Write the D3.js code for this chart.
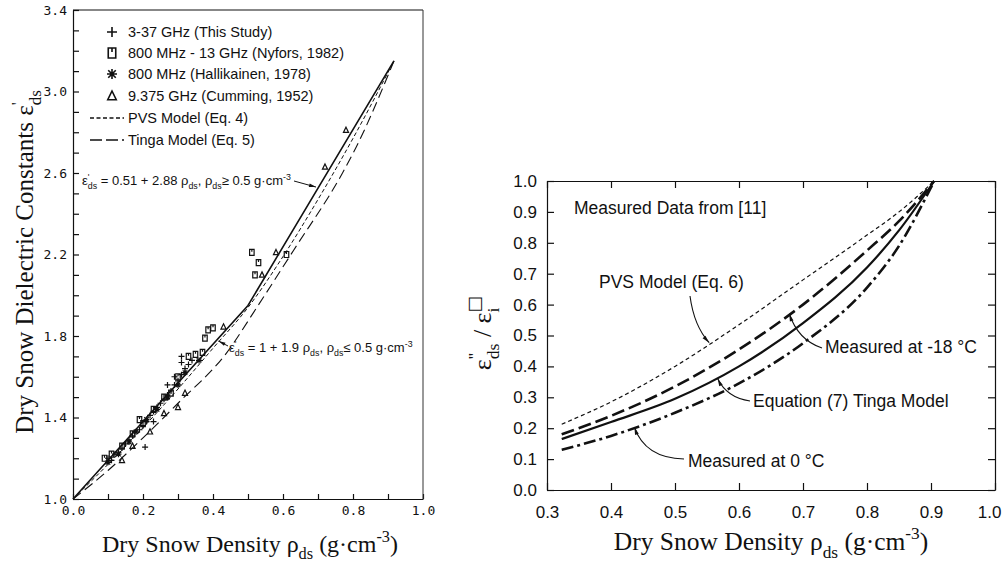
<!DOCTYPE html>
<html lang="en">
<head>
<meta charset="utf-8">
<title>Dry snow dielectric constant</title>
<script src="https://cdnjs.cloudflare.com/ajax/libs/d3/7.8.5/d3.min.js"></script>
<style>
  body { margin: 0; background: #fff; }
  svg { display: block; }
  .axL text { font-family: "DejaVu Sans Mono", monospace; font-size: 13px; fill: #111; }
  .axR text { font-family: "Liberation Sans", Arial, sans-serif; font-size: 17px; fill: #111; }
  .axL path, .axL line, .axR path, .axR line { stroke: #111; stroke-width: 1.2; }
</style>
</head>
<body>
<script>
// ---- left panel data: rho_ds (g/cm3), eps'_ds ----
var thisStudy = [[0.10,1.20],[0.11,1.19],[0.12,1.22],[0.13,1.23],[0.14,1.25],[0.15,1.27],[0.16,1.29],[0.17,1.31],
  [0.19,1.34],[0.20,1.36],[0.21,1.38],[0.22,1.41],[0.23,1.43],[0.24,1.45],[0.25,1.47],[0.26,1.49],[0.27,1.51],
  [0.28,1.53],[0.29,1.56],[0.30,1.58],[0.31,1.61],[0.31,1.67],[0.31,1.70],[0.32,1.64],[0.33,1.66],[0.34,1.68],
  [0.206,1.255],[0.23,1.38],[0.27,1.56],[0.29,1.60]];
var nyfors = [[0.09,1.20],[0.11,1.22],[0.14,1.26],[0.17,1.32],[0.19,1.39],[0.20,1.37],[0.23,1.44],[0.26,1.50],
  [0.28,1.52],[0.30,1.60],[0.33,1.70],[0.35,1.71],[0.37,1.72],[0.377,1.79],[0.386,1.83],[0.40,1.84],
  [0.511,2.21],[0.53,2.16],[0.52,2.10],[0.61,2.20]];
var hallikainen = [[0.10,1.18],[0.13,1.22],[0.16,1.28],[0.18,1.33],[0.21,1.39],[0.24,1.44],[0.27,1.50],
  [0.30,1.56],[0.32,1.62],[0.36,1.68]];
var cumming = [[0.14,1.19],[0.17,1.26],[0.22,1.33],[0.26,1.42],[0.30,1.45],[0.32,1.52],[0.43,1.845],
  [0.54,2.10],[0.58,2.21],[0.72,2.63],[0.78,2.81]];
var linearFit = [[0,1],[0.5,1.95],[0.917,3.15]];
var pvsLeft = [[0,1],[0.1,1.17],[0.2,1.35],[0.3,1.54],[0.4,1.74],[0.5,1.94],[0.6,2.19],[0.7,2.47],[0.8,2.77],[0.917,3.15]];
var tingaLeft = [[0,1],[0.1,1.14],[0.2,1.30],[0.3,1.47],[0.44,1.72],[0.525,1.94],[0.63,2.22],[0.77,2.60],[0.81,2.73],[0.917,3.15]];
var xTicksL = [0,0.1,0.2,0.3,0.4,0.5,0.6,0.7,0.8,0.9,1.0];
var yTicksL = [1.0,1.1,1.2,1.3,1.4,1.5,1.6,1.7,1.8,1.9,2.0,2.1,2.2,2.3,2.4,2.5,2.6,2.7,2.8,2.9,3.0,3.1,3.2,3.3,3.4];

// ---- right panel data: rho_ds, eps''_ds / eps''_i ----
var rhoR = [0.323, 0.4, 0.5, 0.6, 0.7, 0.8, 0.85, 0.905];
var pvsR = [0.213, 0.285, 0.40, 0.535, 0.68, 0.825, 0.90, 1.0];
var meas18 = [0.18, 0.24, 0.335, 0.455, 0.60, 0.775, 0.87, 1.0];
var tingaR = [0.165, 0.22, 0.295, 0.40, 0.54, 0.72, 0.84, 1.0];
var meas0 = [0.13, 0.175, 0.25, 0.345, 0.475, 0.655, 0.79, 1.0];
var xTicksR = [0.3,0.4,0.5,0.6,0.7,0.8,0.9,1.0];
var yTicksR = [0,0.1,0.2,0.3,0.4,0.5,0.6,0.7,0.8,0.9,1.0];

var w = 1004, h = 571;
var svg = d3.select("body").append("svg").attr("width", w).attr("height", h);
svg.append("rect").attr("width", w).attr("height", h).attr("fill", "#fff");

var defs = svg.append("defs");
defs.append("marker").attr("id", "ah").attr("viewBox", "0 0 10 10")
  .attr("refX", 10).attr("refY", 5).attr("markerWidth", 9).attr("markerHeight", 7)
  .attr("orient", "auto")
  .append("path").attr("d", "M0,2.5L10,5L0,7.5Z").attr("fill", "#111");

var sans = "'Liberation Sans', Arial, sans-serif";
var serif = "'Liberation Serif', 'Times New Roman', serif";

// text with sub/superscripts; "supS" = superscript stacked over following subscript
function rich(g, x, y, parts, size, family, anchor) {
  var t = g.append("text").attr("x", x).attr("y", y)
    .style("font-size", size + "px").style("font-family", family)
    .attr("text-anchor", anchor || "start").attr("fill", "#111");
  var cur = 0, stackLen = 0;
  parts.forEach(function(p) {
    var k = p[1] || "n";
    var shift = k == "sub" ? 0.3 * size : (k == "sup" || k == "supS") ? -0.42 * size : 0;
    var ts = t.append("tspan").text(p[0]).attr("dy", shift - cur);
    if (k != "n") ts.style("font-size", (0.68 * size) + "px");
    if (p[2]) ts.style("font-family", p[2]);
    if (k == "sub" && stackLen) ts.attr("dx", -stackLen);
    stackLen = k == "supS" ? ts.node().getComputedTextLength() : 0;
    cur = shift;
  });
  return t;
}

function markerPath(type, s) {
  if (type == "plus") return "M" + (-s) + ",0H" + s + "M0," + (-s) + "V" + s;
  if (type == "star") {
    var d = s * 0.75;
    return "M" + (-s) + ",0H" + s + "M0," + (-s) + "V" + s +
      "M" + (-d) + "," + (-d) + "L" + d + "," + d + "M" + (-d) + "," + d + "L" + d + "," + (-d);
  }
  if (type == "square") {
    var a = s * 0.75;
    return "M" + (-a) + "," + (-s) + "H" + a + "V" + s + "H" + (-a) + "Z M0," + (-s) + "V" + (-s * 0.2);
  }
  return "M0," + (-s) + "L" + (s * 0.85) + "," + (s * 0.75) + "L" + (-s * 0.85) + "," + (s * 0.75) + "Z";
}

// ================= LEFT PANEL =================
var xL = d3.scaleLinear().domain([0, 1]).range([73, 423]);
var yL = d3.scaleLinear().domain([1, 3.4]).range([499, 10]);
var gL = svg.append("g");

gL.append("g").attr("class", "axL").attr("transform", "translate(0,499)")
  .call(d3.axisBottom(xL).tickValues(xTicksL).tickSizeInner(-5).tickSizeOuter(0).tickPadding(7)
    .tickFormat(function(d) { return Math.round(d * 10) % 2 == 0 ? d.toFixed(1) : ""; }));
gL.append("g").attr("class", "axL").attr("transform", "translate(73,0)")
  .call(d3.axisLeft(yL).tickValues(yTicksL).tickSizeInner(-6).tickSizeOuter(0).tickPadding(6)
    .tickFormat(function(d) { return Math.round((d - 1) * 10) % 4 == 0 ? d.toFixed(1) : ""; }));
gL.append("line").attr("x1", 73).attr("x2", 423).attr("y1", 10).attr("y2", 10).attr("stroke", "#111").attr("stroke-width", 1.2);
gL.append("line").attr("x1", 423).attr("x2", 423).attr("y1", 10).attr("y2", 499).attr("stroke", "#333").attr("stroke-width", 1);

var lineL = d3.line().x(function(d) { return xL(d[0]); }).y(function(d) { return yL(d[1]); });
var lineLc = d3.line().x(function(d) { return xL(d[0]); }).y(function(d) { return yL(d[1]); }).curve(d3.curveMonotoneX);
gL.append("path").attr("d", lineLc(tingaLeft)).attr("fill", "none").attr("stroke", "#111").attr("stroke-width", 1.1).attr("stroke-dasharray", "10,5");
gL.append("path").attr("d", lineLc(pvsLeft)).attr("fill", "none").attr("stroke", "#111").attr("stroke-width", 1).attr("stroke-dasharray", "4,2.5");
gL.append("path").attr("d", lineL(linearFit)).attr("fill", "none").attr("stroke", "#111").attr("stroke-width", 1.6);

[[thisStudy, "plus"], [nyfors, "square"], [hallikainen, "star"], [cumming, "tri"]].forEach(function(s) {
  gL.append("g").selectAll("path").data(s[0]).enter().append("path")
    .attr("transform", function(d) { return "translate(" + xL(d[0]) + "," + yL(d[1]) + ")"; })
    .attr("d", markerPath(s[1], 3)).attr("fill", "none").attr("stroke", "#111").attr("stroke-width", 1.2);
});

// legend
var legendRows = [
  { type: "plus", label: "3-37 GHz (This Study)" },
  { type: "square", label: "800 MHz - 13 GHz (Nyfors, 1982)" },
  { type: "star", label: "800 MHz (Hallikainen, 1978)" },
  { type: "tri", label: "9.375 GHz (Cumming, 1952)" },
  { dash: "4,2.5", label: "PVS Model (Eq. 4)" },
  { dash: "12,4", label: "Tinga Model (Eq. 5)" }
];
var legY = [32, 53, 74, 96, 118, 140];
legendRows.forEach(function(r, i) {
  var y = legY[i];
  if (r.type) {
    gL.append("path").attr("transform", "translate(112," + y + ")").attr("d", markerPath(r.type, 5))
      .attr("fill", "none").attr("stroke", "#111").attr("stroke-width", 1.6);
  } else {
    gL.append("line").attr("x1", 90).attr("x2", 124).attr("y1", y).attr("y2", y)
      .attr("stroke", "#111").attr("stroke-width", 1.3).attr("stroke-dasharray", r.dash);
  }
  gL.append("text").attr("x", 128).attr("y", y + 5).text(r.label)
    .style("font-family", sans).style("font-size", "14.5px").attr("fill", "#111");
});

// equation annotations
rich(gL, 82, 185, [["ε"], ["'", "supS"], ["ds", "sub"], [" = 0.51 + 2.88 ρ"], ["ds", "sub"], [", ρ"], ["ds", "sub"],
  ["≥ 0.5 g·cm"], ["-3", "sup"]], 13, sans);
gL.append("path").attr("d", "M294,181 L" + (xL(0.7) - 2) + "," + (yL(2.526) - 1))
  .attr("stroke", "#111").attr("stroke-width", 1).attr("marker-end", "url(#ah)");
rich(gL, 229, 352, [["ε"], ["'", "supS"], ["ds", "sub"], [" = 1 + 1.9 ρ"], ["ds", "sub"], [", ρ"], ["ds", "sub"],
  ["≤ 0.5 g·cm"], ["-3", "sup"]], 13, sans);
gL.append("path").attr("d", "M228,346 L" + (xL(0.41) + 2) + "," + (yL(1.78) + 1))
  .attr("stroke", "#111").attr("stroke-width", 1).attr("marker-end", "url(#ah)");

// axis titles
rich(gL, 250, 552, [["Dry Snow Density ρ"], ["ds", "sub"], [" (g·cm"], ["-3", "sup"], [")", "n"]], 24, serif, "middle");
var yt = gL.append("g").attr("transform", "translate(33,262) rotate(-90)");
rich(yt, 0, 0, [["Dry Snow Dielectric Constants ε"], ["'", "supS"], ["ds", "sub"]], 25, serif, "middle");

// ================= RIGHT PANEL =================
var xR = d3.scaleLinear().domain([0.3, 1]).range([547, 995]);
var yR = d3.scaleLinear().domain([0, 1]).range([490, 181]);
var gR = svg.append("g");

var xAxR = gR.append("g").attr("class", "axR").attr("transform", "translate(0,490)")
  .call(d3.axisBottom(xR).tickValues(xTicksR).tickSizeInner(-7).tickSizeOuter(0).tickPadding(16)
    .tickFormat(d3.format(".1f")));
xAxR.selectAll(".tick").filter(function(d) { return d == 1; }).select("text")
  .attr("text-anchor", "end").attr("x", 6);
gR.append("g").attr("class", "axR").attr("transform", "translate(547,0)")
  .call(d3.axisLeft(yR).tickValues(yTicksR).tickSizeInner(-7).tickSizeOuter(0).tickPadding(10)
    .tickFormat(d3.format(".1f")));
gR.append("g").attr("class", "axR").attr("transform", "translate(0,181)")
  .call(d3.axisTop(xR).tickValues(xTicksR).tickSizeInner(-7).tickSizeOuter(0).tickFormat(""));
gR.append("g").attr("class", "axR").attr("transform", "translate(995,0)")
  .call(d3.axisRight(yR).tickValues(yTicksR).tickSizeInner(-7).tickSizeOuter(0).tickFormat(""));

var lineR = d3.line().x(function(d) { return xR(d[0]); }).y(function(d) { return yR(d[1]); }).curve(d3.curveMonotoneX);
var seriesR = [
  { v: pvsR, w: 1.2, dash: "4,3" },
  { v: meas18, w: 2.6, dash: "13,5" },
  { v: tingaR, w: 2.2, dash: null },
  { v: meas0, w: 2.6, dash: "12,4,3,4" }
];
seriesR.forEach(function(s) {
  var pts = rhoR.map(function(r, i) { return [r, s.v[i]]; });
  gR.append("path").attr("d", lineR(pts)).attr("fill", "none").attr("stroke", "#111")
    .attr("stroke-width", s.w).attr("stroke-dasharray", s.dash);
});

function rtext(x, y, s) {
  gR.append("text").attr("x", x).attr("y", y).text(s)
    .style("font-family", sans).style("font-size", "17.5px").attr("fill", "#111");
}
function leader(d) {
  gR.append("path").attr("d", d).attr("fill", "none").attr("stroke", "#111")
    .attr("stroke-width", 1.1).attr("marker-end", "url(#ah)");
}
rtext(574, 214, "Measured Data from [11]");
rtext(599, 288, "PVS Model (Eq. 6)");
rtext(825, 353, "Measured at -18 °C");
rtext(753, 407, "Equation (7) Tinga Model");
rtext(688, 467, "Measured at 0 °C");
leader("M690,296 Q694,326 " + (xR(0.555) - 1) + "," + (yR(0.48) + 1));
leader("M822,348 Q798,340 " + (xR(0.677) + 1) + "," + (yR(0.577) + 2));
leader("M750,401 Q727,398 " + (xR(0.565) + 1) + "," + (yR(0.367) + 2));
leader("M684,459 Q645,458 " + (xR(0.435) + 1) + "," + (yR(0.21) + 2));

rich(gR, 771, 550, [["Dry Snow Density ρ"], ["ds", "sub"], [" (g·cm"], ["-3", "sup"], [")", "n"]], 25.5, serif, "middle");
var yt2 = gR.append("g").attr("transform", "translate(491,333) rotate(-90)");
rich(yt2, 0, 0, [["ε"], ["''", "supS"], ["ds", "sub"], [" / ε"], ["□", "supS", "'DejaVu Sans', sans-serif"], ["i", "sub"]], 26, serif, "middle");
</script>
</body>
</html>
